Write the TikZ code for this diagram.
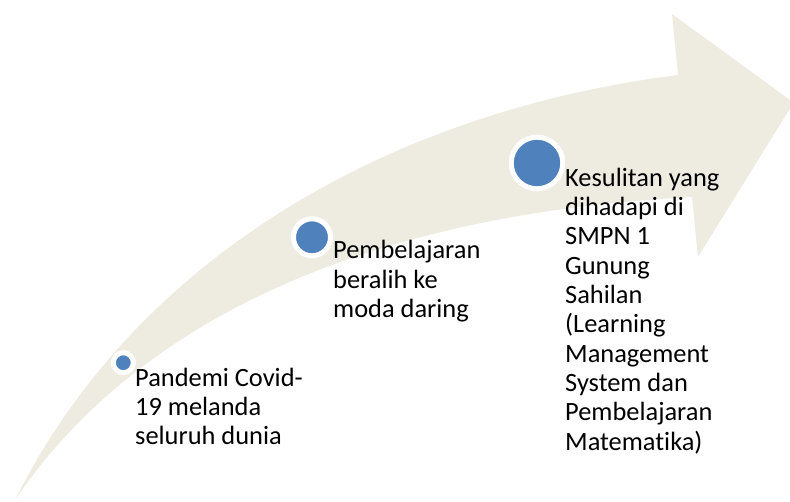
\documentclass[tikz,border=0pt]{standalone}
\usepackage{fontspec}
\setmainfont{Carlito}[RawFeature=-liga]
\definecolor{arrowfill}{HTML}{EEECE1}
\definecolor{dotblue}{HTML}{4F81BD}
\begin{document}
\begin{tikzpicture}[x=1pt,y=-1pt,
  dot/.style={circle,fill=dotblue,draw=white,line width=5pt,inner sep=0pt},
  lbl/.style={anchor=base west,align=left,inner sep=0pt,font=\fontsize{26.4}{29.3}\selectfont}]
\useasboundingbox (0,0) rectangle (790,502);
\clip (0,0) rectangle (790,502);
\fill[arrowfill] (15,500) .. controls (140,250) and (400,110) .. (678,75)
  -- (672,14) -- (793.6,102.6) -- (698,257) -- (692,197)
  .. controls (350,215) and (130,330) .. (15,500) -- cycle;
\node[dot,minimum size=20pt] (d1) at (123.3,362.7) {};
\node[dot,minimum size=37pt] (d2) at (312,237.3) {};
\node[dot,minimum size=51.6pt] (d3) at (537,163) {};
% anchored at the baseline of each label's last line
\node[lbl] (t1) at (135,444.6) {Pandemi Covid-\\19 melanda\\seluruh dunia};
\node[lbl] (t2) at (333,317.6) {Pembelajaran\\beralih ke\\moda daring};
\node[lbl] (t3) at (565,450.1) {Kesulitan yang\\dihadapi di\\SMPN 1\\Gunung\\Sahilan\\(Learning\\Management\\System dan\\Pembelajaran\\Matematika)};
\end{tikzpicture}
\end{document}
